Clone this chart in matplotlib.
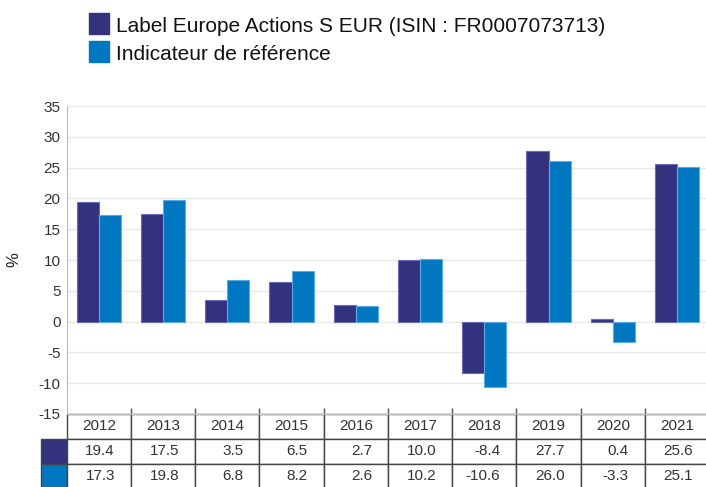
import matplotlib
matplotlib.use("Agg")
import matplotlib.pyplot as plt
from matplotlib.patches import Rectangle
import numpy as np

# data
years = ['2012', '2013', '2014', '2015', '2016', '2017', '2018', '2019', '2020', '2021']
fund = [19.4, 17.5, 3.5, 6.5, 2.7, 10.0, -8.4, 27.7, 0.4, 25.6]
bench = [17.3, 19.8, 6.8, 8.2, 2.6, 10.2, -10.6, 26.0, -3.3, 25.1]
fund_name = 'Label Europe Actions S EUR (ISIN : FR0007073713)'
bench_name = 'Indicateur de référence'

dark = '#32327f'
light = '#0078c1'

plt.rcParams['font.family'] = ['Liberation Sans', 'DejaVu Sans']
plt.rcParams['axes.unicode_minus'] = False

fig = plt.figure(figsize=(7.06, 4.87), dpi=100)
ax = fig.add_axes([0.0945, 0.1499, 0.910, 0.6324])

x = np.arange(len(years)) + 0.5
w = 0.345
ax.bar(x - w / 2, fund, w, color=dark, edgecolor='#6c6cb4', linewidth=0.8, zorder=3)
ax.bar(x + w / 2, bench, w, color=light, edgecolor='#5aaae6', linewidth=0.8, zorder=3)

ax.set_xlim(0, len(years))
ax.set_ylim(-15, 35)
ax.set_yticks(np.arange(-15, 36, 5))
ax.set_xticks([])
ax.set_xticks(np.arange(1, len(years)), minor=True)
ax.tick_params(axis='x', which='minor', direction='in', length=4, color='#555555', width=1)
ax.tick_params(axis='y', length=0, labelsize=11, labelcolor='#333333', pad=4.5)
ax.grid(axis='y', color='#e8e8e8', linewidth=1, zorder=0)
for s in ['top', 'right']:
    ax.spines[s].set_visible(False)
ax.spines['left'].set_color('#bbbbbb')
ax.spines['bottom'].set_color('#bbbbbb')
ax.set_ylabel('%', fontsize=12, color='#222222', labelpad=12)

# data table under the bars
cells = [[''] + years,
         [''] + ['%.1f' % v for v in fund],
         [''] + ['%.1f' % v for v in bench]]
lab_w = 0.04
tbl = ax.table(cellText=cells, colWidths=[lab_w] + [0.1] * len(years),
               bbox=[-lab_w, -0.2435, 1 + lab_w, 0.2435], cellLoc='center')
tbl.auto_set_font_size(False)
tbl.set_fontsize(11)
for (r, c), cell in tbl.get_celld().items():
    cell.set_edgecolor('#444444')
    cell.set_linewidth(1)
    cell.get_text().set_color('#333333')
    if r > 0 and c > 0:
        cell.get_text().set_horizontalalignment('right')
        cell.PAD = 0.25
    if c == 0:
        if r == 0:
            cell.visible_edges = ''
        else:
            cell.set_facecolor(dark if r == 1 else light)

# legend at the top
for i, (name, col) in enumerate([(fund_name, dark), (bench_name, light)]):
    yb = 1 - (34 + i * 28) / 487
    fig.patches.append(Rectangle((89 / 706, yb), 20 / 706, 20.5 / 487, color=col,
                                 transform=fig.transFigure, figure=fig))
    fig.text(116 / 706, 1 - (32 + i * 28) / 487, name, fontsize=15, color='#111111',
             va='baseline')

fig.savefig('out.png', dpi=100)
